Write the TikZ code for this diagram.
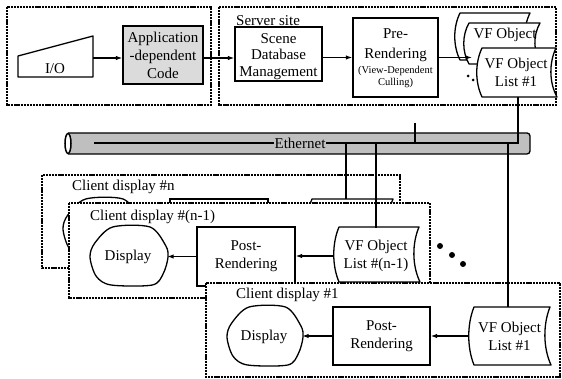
\documentclass[tikz,border=0pt]{standalone}
\usepackage{fontspec}
\setmainfont{Liberation Serif}
\usetikzlibrary{arrows.meta,calc}
\newcommand\tapeshape[4]{% L T R B
 \draw[shp] ({#1+6},{#2}) -- ({#3},{#2}) .. controls ({#3-7},{#2+0.3*(#4-#2)}) and ({#3-7},{#2+0.7*(#4-#2)}) .. ({#3+1},{#4}) -- ({#1+6},{#4}) .. controls ({#1-1},{#2+0.7*(#4-#2)}) and ({#1-1},{#2+0.3*(#4-#2)}) .. cycle;}
\newcommand\blobshape[4]{% L T R B
 \draw[shp] plot[smooth cycle,tension=0.5] coordinates {
  ({#1+0.29*(#3-#1)},{#2}) ({#1+0.77*(#3-#1)},{#2}) ({#1+0.97*(#3-#1)},{#2+0.32*(#4-#2)}) ({#3},{#2+0.52*(#4-#2)}) ({#1+0.94*(#3-#1)},{#2+0.8*(#4-#2)}) ({#1+0.8*(#3-#1)},{#4}) ({#1+0.27*(#3-#1)},{#4}) ({#1+0.08*(#3-#1)},{#2+0.85*(#4-#2)}) ({#1},{#2+0.52*(#4-#2)}) ({#1+0.06*(#3-#1)},{#2+0.28*(#4-#2)})};}
\begin{document}
\begin{tikzpicture}[x=1pt,y=-1pt,
  font=\fontsize{15}{18}\selectfont,
  box/.style={draw,line width=1.3pt,fill=white,inner sep=0pt,align=center},
  region/.style={draw,line width=1.4pt,dash pattern=on 2.2pt off 0.9pt},
  conn/.style={line width=1.2pt},
  arr/.style={conn,-{Latex[length=6.5pt,width=4.5pt]}},
  shp/.style={draw,line width=1.3pt,fill=white,line join=round},
  txt/.style={inner sep=0pt,align=center},
  lbl/.style={anchor=west,inner sep=0pt}]
\useasboundingbox (0,0) rectangle (562,379);
% top regions
\draw[region] (7,7) rectangle (211,105);
\draw[region] (219,7) rectangle (556,105);
% I/O
\draw[shp] (18,77) -- (93,77) -- (93,36) -- (18,56) -- cycle;
\node[txt] (io) at (55,69) {I/O};
\coordinate (ioR) at (93,58);
\node[box,fill=black!14,minimum width=80pt,minimum height=58pt] (app) at (163,55) {Application\\-dependent\\Code};
\node[anchor=base west,inner sep=0pt] (srv) at (236,25.5) {Server site};
\node[box,minimum width=87pt,minimum height=54pt] (scene) at (278.5,54) {};
\node[txt,font=\fontsize{15}{16.5}\selectfont] (sceneT) at (278.5,56.5) {Scene\\Database\\Management};
\node[box,minimum width=85pt,minimum height=79pt] (pre) at (395.5,57.5) {};
\node[anchor=base,inner sep=0pt] (preA) at (395.5,39) {Pre-};
\node[anchor=base,inner sep=0pt] (preB) at (395.5,59) {Rendering};
\node[anchor=base,inner sep=0pt,font=\fontsize{10.5}{12}\selectfont] (preC) at (395.5,73.5) {(View-Dependent};
\node[anchor=base,inner sep=0pt,font=\fontsize{10.5}{12}\selectfont] (preD) at (395.5,85.5) {Culling)};
% VF object lists (server)
\tapeshape{454}{13}{530}{60}
\tapeshape{463}{23}{540}{64}
\node[txt] (vfMtxt) at (505,35) {VF Object};
\tapeshape{476}{48}{556}{97}
\node[txt,minimum width=80pt,minimum height=49pt] (vfF) at (516,72.5) {VF Object\\List \#1};
\fill (468,76) circle (1.5pt) (473,80) circle (1.5pt);
\coordinate (vfMtip) at (472,57.5);
\draw[arr] (ioR) -- (ioR -| app.west);
\draw[arr] ([yshift=-3pt]app.east) -- ([yshift=-3pt]app.east -| scene.west);
\draw[arr] (scene.east |- pre.west) -- (pre.west);
\draw[arr] (pre.east) -- (vfMtip);
% client #n
\draw[region,fill=white] (42,175) rectangle (400,268);
\node[lbl] (lblN) at (72,187) {Client display \#n};
\blobshape{63}{199}{141}{257}
\node[box,minimum width=98pt,minimum height=59pt] (postN) at (219,228.5) {};
\tapeshape{306}{199}{393}{254}
\coordinate (vfN) at (346,199);
% client #(n-1)
\draw[region,fill=white] (69,203) rectangle (430,298);
\node[lbl] (lblB) at (90,217) {Client display \#(n-1)};
\blobshape{90}{227}{168}{285}
\node[txt,minimum width=78pt,minimum height=58pt] (dispB) at (128,257) {Display};
\node[box,minimum width=98pt,minimum height=59pt] (postB) at (246,256.5) {Post-\\Rendering};
\tapeshape{333}{227}{419}{282}
\node[txt,minimum width=86pt,minimum height=55pt] (vfB) at (376,256) {VF Object\\List \#(n-1)};
\draw[arr] (vfB.west) -- (vfB.west -| postB.east);
\draw[arr] (postB.west) -- (postB.west -| dispB.east);
\fill (440,246) circle (3pt) (452,255) circle (3pt) (463,264) circle (3pt);
% client #1
\draw[region,fill=white] (206,283) rectangle (560,377);
\node[lbl] (lbl1) at (236,295) {Client display \#1};
\blobshape{227}{307}{303}{365}
\node[txt,minimum width=76pt,minimum height=58pt] (disp1) at (264,337) {Display};
\node[box,minimum width=97pt,minimum height=58pt] (post1) at (381.5,336) {Post-\\Rendering};
\tapeshape{468}{307}{550}{365}
\node[txt,minimum width=83pt,minimum height=58pt] (vf1) at (509.5,336) {VF Object\\List \#1};
\draw[arr] (vf1.west) -- (vf1.west -| post1.east);
\draw[arr] (post1.west) -- (post1.west -| disp1.east);
% Ethernet
\draw[line width=1.3pt,fill=black!25,rounded corners=3pt] (68,133) -- (530,133) -- (530,154) -- (68,154);
\draw[line width=1.5pt,fill=white] (68,143.5) ellipse [x radius=3pt,y radius=10pt];
\coordinate (ethL) at (94,143);
\coordinate (ethR) at (518,143);
\coordinate (thickEnd) at (473,143);
\coordinate (stubT) at (415,123);
\coordinate (stubB) at (415,143);
\coordinate (tapN) at (346,143);
\coordinate (tapB) at (376,143);
\coordinate (tap1) at (508,143);
\draw[conn] (vfF.south -| ethR) -- (ethR) -- (ethL);
\draw[conn] (stubT) -- (stubB);
\node[fill=black!25,inner sep=1pt] (ethlbl) at (300,143) {Ethernet};
\draw[line width=2.2pt] (ethlbl.east) -- (thickEnd);
\draw[conn] (tapN) -- (vfN);
\draw[conn] (tapB) -- (tapB |- vfB.north);
\draw[conn] (tap1) -- (tap1 |- vf1.north);
\end{tikzpicture}
\end{document}
